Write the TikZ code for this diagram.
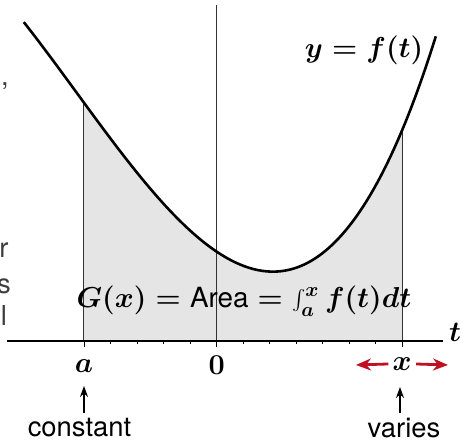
\documentclass[tikz,border=0pt]{standalone}
\usepackage{fontspec}
\setsansfont{TeX Gyre Heros}
\usetikzlibrary{arrows.meta}
\definecolor{areagray}{RGB}{229,229,229}
\definecolor{arrred}{RGB}{192,16,34}
\definecolor{fragtext}{RGB}{60,60,60}
\newcommand{\ffun}[1]{(341-26.5*(3.37-0.6713*(#1)+0.13157*(#1)*(#1)+0.008286*(#1)*(#1)*(#1)))}
\tikzset{
  mathlbl/.style={font=\fontsize{14.3}{16}\selectfont\boldmath, inner sep=0pt},
  arealbl/.style={font=\fontsize{13.9}{16}\selectfont\boldmath, inner sep=0pt},
  sanslbl/.style={font=\fontsize{13.7}{16}\selectfont\sffamily, inner sep=0pt},
  fragment/.style={font=\fontsize{13.7}{16}\selectfont\sffamily, text=fragtext, inner sep=0pt},
  curve/.style={line width=1.3pt},
  axisline/.style={line width=0.75pt},
  guide/.style={line width=0.5pt, black!80},
  tickmark/.style={line width=0.6pt},
  uparrow/.style={line width=0.6pt, -{Stealth[length=5.5pt,width=4pt]}},
  redarrow/.style={line width=1.4pt, arrred, -{Stealth[length=7.5pt,width=6pt]}}
}
\begin{document}
\begin{tikzpicture}[x=0.5pt,y=-0.5pt]
\useasboundingbox (0,0) rectangle (463,442);
% shaded area
\fill[areagray] (84,341) -- plot[domain=-5:7, samples=80] ({216.7+26.5*\x}, {\ffun{\x}}) -- (402.2,341) -- cycle;
% vertical guides
\draw[guide] (84,341) -- (84,{\ffun{-5}});
\draw[guide] (402.2,341) -- (402.2,{\ffun{7}});
\draw[guide] (216.7,341) -- (216.7,5);
% axis
\draw[axisline] (7,341) -- (443,341);
\foreach \k in {-4,...,-1,1,2,...,6} \draw[tickmark] ({216.7+26.5*\k},341) -- ++(0,3.5);
\foreach \k in {-5,0,7} \draw[tickmark] ({216.7+26.5*\k},341) -- ++(0,6);
% curve
\draw[curve] plot[domain=-7.28:8.27, samples=120] ({216.7+26.5*\x}, {\ffun{\x}});
% labels
\node[mathlbl] (tl) at (455,332) {$t$};
\node[mathlbl] (fl) at (364,50) {$y=f(t)$};
\node[arealbl] (gl) at (244,301) {$G(x)=\mbox{\sffamily\mdseries Area}=\int_a^x f(t)dt$};
\node[mathlbl] (al) at (84,366) {$a$};
\node[mathlbl] (zl) at (216.7,365) {$0$};
\node[mathlbl] (xl) at (402.2,364) {$x$};
\node[sanslbl] (cl) at (79.5,428) {constant};
\node[sanslbl] (vl) at (404,428) {varies};
% arrows
\coordinate (ca) at (84,413);
\coordinate (va) at (400,413);
\draw[uparrow] (ca) -- (84,386);
\draw[uparrow] (va) -- (400,387);
\coordinate (xleft) at (356,365);
\coordinate (xright) at (448,365);
\draw[redarrow] ([xshift=-2pt]xl.west) -- (xleft);
\draw[redarrow] ([xshift=2pt]xl.east) -- (xright);
% text fragments at left edge
\node[fragment] (f1) at (5,86) {,};
\node[fragment] (f2) at (4,250) {r};
\node[fragment] (f3) at (4,286) {s};
\node[fragment] (f4) at (4,316) {l};
\end{tikzpicture}
\end{document}
